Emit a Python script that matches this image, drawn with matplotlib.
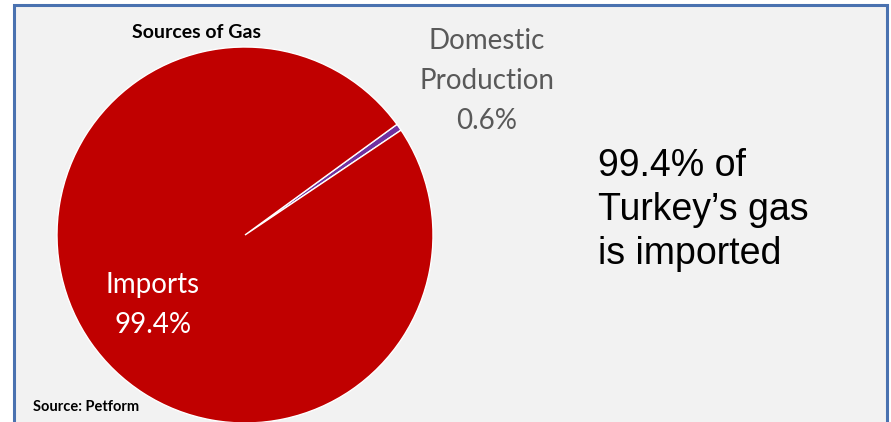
import matplotlib.pyplot as plt
from matplotlib.patches import Rectangle

# gas supply split (percent)
sources = ["Domestic\nProduction", "Imports"]
shares = [0.6, 99.4]
colors = ["#7030a0", "#c00000"]

W, H = 891, 422
fig = plt.figure(figsize=(W / 100, H / 100), dpi=100)
fig.patch.set_facecolor("white")


def fx(px):
    return px / W


def fy(py):
    return 1 - py / H


# grey panel with blue frame, open at the bottom
fig.patches.append(Rectangle((fx(14), fy(440)), fx(887) - fx(14), fy(5) - fy(440),
                             transform=fig.transFigure, facecolor="#f2f2f2",
                             edgecolor="#4a72b0", linewidth=2.2, zorder=-5))

# pie axes: centre (245, 235) px, radius 188 px
cx, cy, r = 245, 235, 188
ax = fig.add_axes([fx(cx - r), fy(cy + r), 2 * r / W, 2 * r / H])
wedges, _ = ax.pie(shares, colors=colors, startangle=33.9, radius=1,
                   wedgeprops=dict(edgecolor="white", linewidth=1.0))
ax.set_xlim(-1, 1)
ax.set_ylim(-1, 1)
ax.axis("off")
for w in wedges:
    w.set_clip_on(False)

font = "Lato"
fig.text(fx(197), fy(32), "Sources of Gas", ha="center", va="center",
         fontsize=14, fontweight="bold", family=font)
fig.text(fx(487), fy(81), f"{sources[0]}\n{shares[0]}%", ha="center", va="center",
         fontsize=20, color="#595959", family=font, linespacing=1.65)
fig.text(fx(153), fy(305), f"{sources[1]}\n{shares[1]}%", ha="center", va="center",
         fontsize=20, color="white", family=font, linespacing=1.65)
fig.text(fx(598), fy(210), f"{shares[1]}% of\nTurkey\u2019s gas\nis imported",
         ha="left", va="center", fontsize=27, color="black",
         family="Liberation Sans", linespacing=1.29)
fig.text(fx(33), fy(407), "Source: Petform", ha="left", va="center",
         fontsize=10.5, fontweight="bold", family=font)

fig.savefig("out.png", dpi=100)
